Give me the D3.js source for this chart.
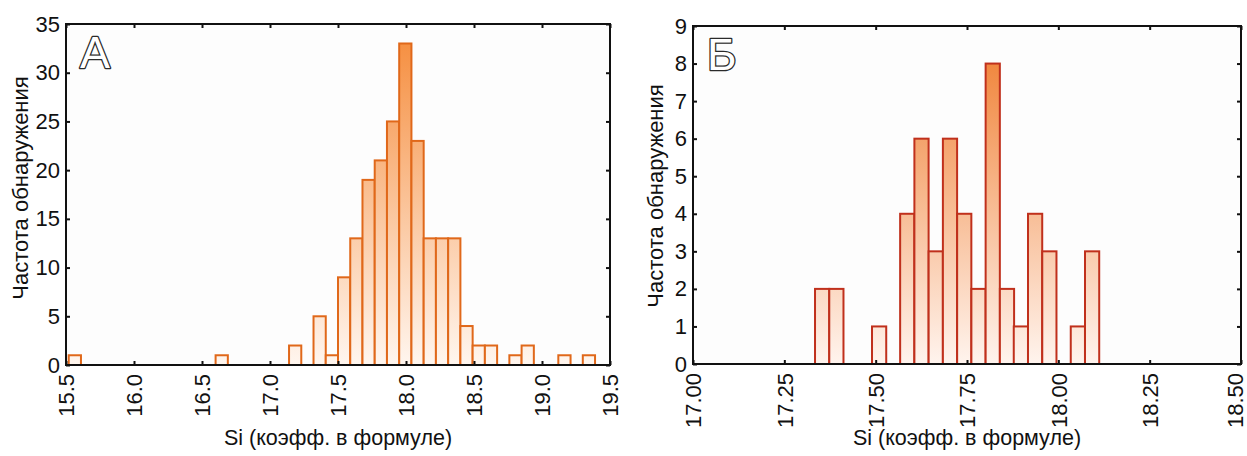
<!DOCTYPE html>
<html>
<head>
<meta charset="utf-8">
<script src="https://cdn.jsdelivr.net/npm/d3@7"></script>
<style>
  html, body { margin: 0; padding: 0; background: #ffffff; }
  svg { display: block; font-family: Arial, "Liberation Sans", sans-serif; }
</style>
</head>
<body>
<svg id="chart" width="1247" height="456"></svg>
<script>
// ---- Data ----
// Panel А: histogram of Si, bin width 0.09
const binWidthA = 0.09;
const binStartA = [15.52, 16.60, 17.14, 17.32, 17.41, 17.50, 17.59, 17.68, 17.77, 17.86, 17.95,
                   18.04, 18.13, 18.22, 18.31, 18.40, 18.49, 18.58, 18.76, 18.85, 19.12, 19.30];
const countA    = [1, 1, 2, 5, 1, 9, 13, 19, 21, 25, 33,
                   23, 13, 13, 13, 4, 2, 2, 1, 2, 1, 1];
const xTicksA = [15.5, 16.0, 16.5, 17.0, 17.5, 18.0, 18.5, 19.0, 19.5];
const yTicksA = [0, 5, 10, 15, 20, 25, 30, 35];

// Panel Б: histogram of Si, bin width ~0.039
const binWidthB = 0.0389;
const binStartB = [17.334, 17.373, 17.490, 17.567, 17.606, 17.645, 17.684, 17.723,
                   17.762, 17.801, 17.840, 17.878, 17.917, 17.956, 18.034, 18.073];
const countB    = [2, 2, 1, 4, 6, 3, 6, 4, 2, 8, 2, 1, 4, 3, 1, 3];
const xTicksB = [17.00, 17.25, 17.50, 17.75, 18.00, 18.25, 18.50];
const yTicksB = [0, 1, 2, 3, 4, 5, 6, 7, 8, 9];

const panelLetters = ["А", "Б"];
const yTitle = "Частота обнаружения";
const xTitle = "Si (коэфф. в формуле)";

// ---- Drawing ----
const svg = d3.select("#chart");
const defs = svg.append("defs");

function drawPanel(cfg) {
  const { id, left, right, top, bottom, xDomain, yDomain, starts, counts, bw,
          xTicks, yTicks, xFmt, stroke, gradTop, gradBottom, letter, yTitleX, yTitleY, lastDy } = cfg;
  const x = d3.scaleLinear().domain(xDomain).range([left, right]);
  const y = d3.scaleLinear().domain(yDomain).range([bottom, top]);

  const gid = "grad" + id;
  const g = defs.append("linearGradient").attr("id", gid)
    .attr("gradientUnits", "userSpaceOnUse")
    .attr("x1", 0).attr("x2", 0).attr("y1", top).attr("y2", bottom);
  g.append("stop").attr("offset", "0%").attr("stop-color", gradTop);
  g.append("stop").attr("offset", "100%").attr("stop-color", gradBottom);

  const root = svg.append("g");

  // plot background
  root.append("rect").attr("x", left).attr("y", top)
    .attr("width", right - left).attr("height", bottom - top).attr("fill", "#fdfdfd");

  // bars
  const bars = starts.map((s, i) => ({ x0: s, x1: s + bw, c: counts[i] }));
  root.append("g").selectAll("rect").data(bars).join("rect")
    .attr("x", d => x(d.x0))
    .attr("y", d => y(d.c))
    .attr("width", d => x(d.x1) - x(d.x0))
    .attr("height", d => y(0) - y(d.c))
    .attr("fill", `url(#${gid})`)
    .attr("stroke", stroke)
    .attr("stroke-width", 2);

  // axes with inward ticks
  const axB = root.append("g").attr("transform", `translate(0,${bottom})`)
    .call(d3.axisBottom(x).tickValues(xTicks).tickFormat(xFmt).tickSize(-4));
  axB.selectAll("text")
    .attr("transform", "rotate(-90)")
    .attr("text-anchor", "end")
    .attr("x", -9).attr("y", 0)
    .attr("dy", (d, i) => i === xTicks.length - 1 ? lastDy : "0.36em")
    .style("font-size", "22px").attr("fill", "#111");
  root.append("g").attr("transform", `translate(0,${top})`)
    .call(d3.axisTop(x).tickValues(xTicks).tickFormat("").tickSize(-4));
  const axL = root.append("g").attr("transform", `translate(${left},0)`)
    .call(d3.axisLeft(y).tickValues(yTicks).tickFormat(d3.format("d")).tickSize(-4).tickPadding(6));
  axL.selectAll("text").style("font-size", "22px").attr("fill", "#111");
  root.append("g").attr("transform", `translate(${right},0)`)
    .call(d3.axisRight(y).tickValues(yTicks).tickFormat("").tickSize(-4));
  root.selectAll(".domain").remove();
  root.selectAll(".tick line").attr("stroke", "#111").attr("stroke-width", 2);

  // frame
  root.append("rect").attr("x", left).attr("y", top)
    .attr("width", right - left).attr("height", bottom - top)
    .attr("fill", "none").attr("stroke", "#111").attr("stroke-width", 2);

  // panel letter (outlined)
  root.append("text").attr("x", left + 14).attr("y", top + 44)
    .text(letter)
    .style("font-size", "45px")
    .attr("fill", "#ffffff").attr("stroke", "#2a2a2a").attr("stroke-width", 2.6)
    .attr("stroke-linejoin", "round")
    .attr("paint-order", "stroke");

  // axis titles
  root.append("text")
    .attr("transform", `translate(${yTitleX},${yTitleY}) rotate(-90)`)
    .attr("text-anchor", "middle").attr("dy", "0.35em")
    .style("font-size", "22px").attr("fill", "#111")
    .text(yTitle);
  root.append("text")
    .attr("x", (left + right) / 2).attr("y", 445)
    .attr("text-anchor", "middle")
    .style("font-size", "21.5px").attr("fill", "#111")
    .text(xTitle);
}

drawPanel({
  id: "A", left: 66, right: 610, top: 24, bottom: 365,
  xDomain: [15.5, 19.5], yDomain: [0, 35],
  starts: binStartA, counts: countA, bw: binWidthA,
  xTicks: xTicksA, yTicks: yTicksA, xFmt: d3.format(".1f"),
  stroke: "#e0681a", gradTop: "#f58a38", gradBottom: "#fff6ef",
  letter: panelLetters[0], yTitleX: 20, yTitleY: 188, lastDy: "0.36em"
});

drawPanel({
  id: "B", left: 693, right: 1241, top: 26, bottom: 364,
  xDomain: [17.0, 18.5], yDomain: [0, 9],
  starts: binStartB, counts: countB, bw: binWidthB,
  xTicks: xTicksB, yTicks: yTicksB, xFmt: d3.format(".2f"),
  stroke: "#c0301c", gradTop: "#ef7a2a", gradBottom: "#fff4ee",
  letter: panelLetters[1], yTitleX: 655, yTitleY: 196, lastDy: "0.05em"
});
</script>
</body>
</html>
